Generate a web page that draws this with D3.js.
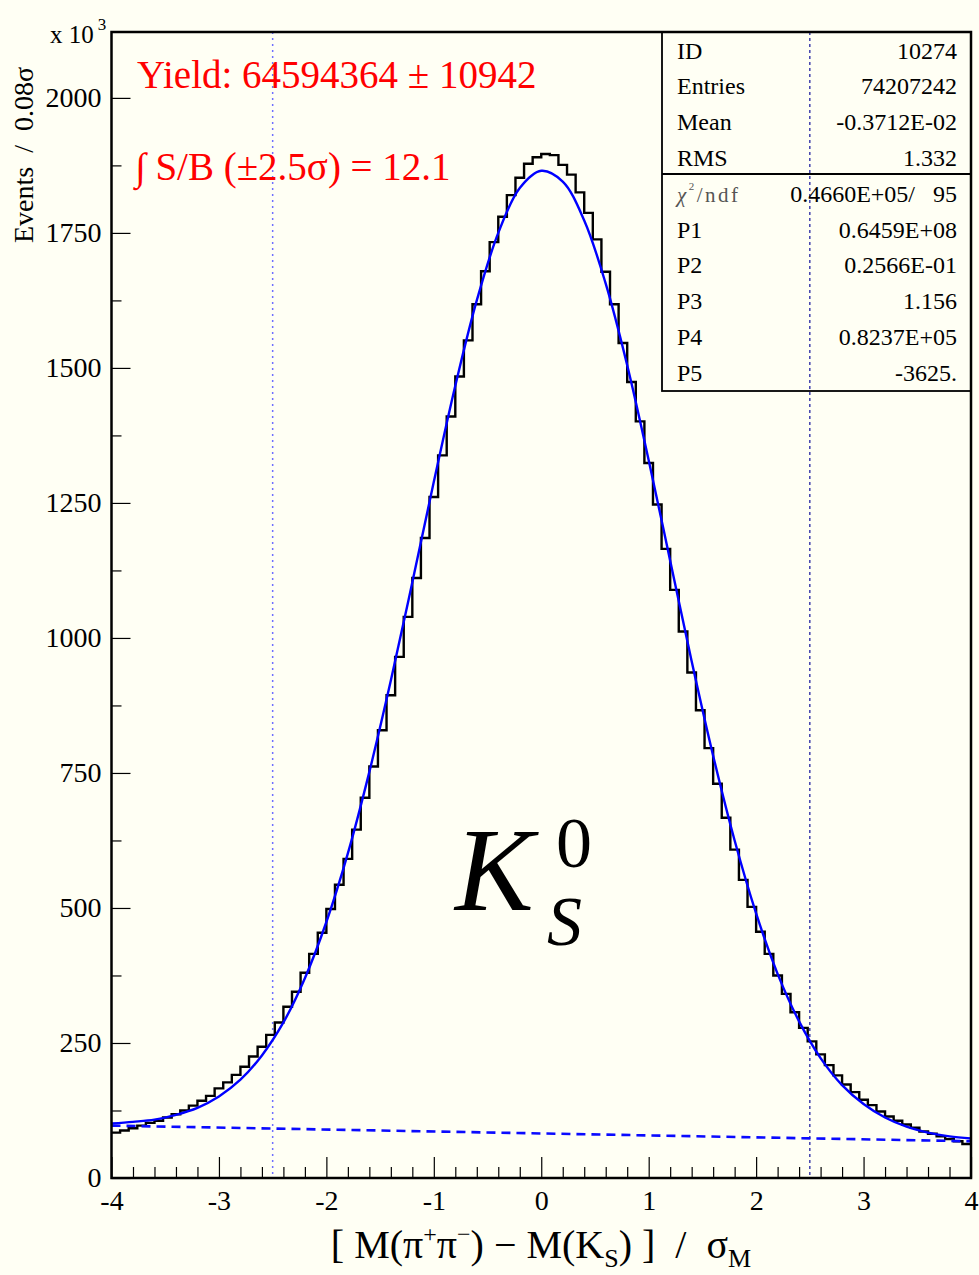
<!DOCTYPE html>
<html>
<head>
<meta charset="utf-8">
<script src="https://cdn.jsdelivr.net/npm/d3@7"></script>
<style>
  html, body { margin: 0; padding: 0; background: #fffff4; }
  svg { display: block; }
  text { font-family: "Liberation Serif", "Times New Roman", serif; }
</style>
</head>
<body>
<svg id="chart"></svg>
<script>
// histogram: 100 bins of 0.08 sigma from -4 to 4 (events, x 10^3)
const binEdgeLo = -4;
const binWidth = 0.08;
const binCounts = [
  84, 88, 92, 97, 102, 106, 112, 118, 125, 134,
  143, 152, 166, 177, 191, 206, 225, 243, 265, 288,
  317, 345, 380, 415, 454, 498, 543, 591, 645, 704,
  762, 829, 894, 965, 1039, 1111, 1185, 1261, 1338, 1410,
  1484, 1551, 1618, 1679, 1733, 1780, 1820, 1852, 1878, 1890,
  1896, 1894, 1876, 1858, 1825, 1787, 1738, 1678, 1618, 1546,
  1474, 1401, 1324, 1247, 1165, 1089, 1012, 936, 866, 796,
  730, 667, 608, 552, 502, 456, 415, 375, 341, 307,
  278, 253, 229, 209, 190, 173, 159, 145, 135, 123,
  114, 106, 99, 93, 86, 82, 77, 72, 68, 63
];

// fitted curve, read every 0.2 sigma
const fitX = [-4, -3.8, -3.6, -3.4, -3.2, -3, -2.8, -2.6, -2.4, -2.2, -2, -1.8, -1.6, -1.4,
  -1.2, -1, -0.8, -0.6, -0.4, -0.2, 0, 0.2, 0.4, 0.6, 0.8, 1, 1.2, 1.4, 1.6, 1.8, 2, 2.2,
  2.4, 2.6, 2.8, 3, 3.2, 3.4, 3.6, 3.8, 4];
const fitY = [101, 104, 108, 117, 130, 151, 182, 227, 288, 370, 474, 601, 752, 921,
  1103, 1289, 1467, 1625, 1750, 1833, 1865, 1845, 1773, 1656, 1505, 1329, 1143, 957, 782, 625, 490, 378,
  290, 222, 172, 137, 112, 95, 84, 77, 73];

// background line (dashed)
const bkgX = [-4, 4];
const bkgY = [97, 68];

// signal window markers
const windowX = [-2.5, 2.5];

const xTicks = [-4, -3, -2, -1, 0, 1, 2, 3, 4];
const yTicks = [0, 250, 500, 750, 1000, 1250, 1500, 1750, 2000];

const statLabels = ['ID', 'Entries', 'Mean', 'RMS', 'χ²/ndf', 'P1', 'P2', 'P3', 'P4', 'P5'];
const statValues = ['10274', '74207242', '-0.3712E-02', '1.332', '0.4660E+05/   95',
  '0.6459E+08', '0.2566E-01', '1.156', '0.8237E+05', '-3625.'];

const largura = 979, altura = 1275;
const esq = 111.5, dir = 971, topo = 32, base = 1178;

let svg = d3.select('#chart').attr('width', largura).attr('height', altura);
svg.append('rect').attr('width', largura).attr('height', altura).attr('fill', '#fffff4');

let fnX = d3.scaleLinear().domain([-4, 4]).range([esq, dir]);
let fnY = d3.scaleLinear().domain([0, 2122]).range([base, topo]);

svg.append('clipPath').attr('id', 'quadro')
  .append('rect').attr('x', esq).attr('y', topo).attr('width', dir - esq).attr('height', base - topo);

let plot = svg.append('g').attr('clip-path', 'url(#quadro)');

// window markers
plot.append('line')
  .attr('x1', fnX(windowX[0])).attr('x2', fnX(windowX[0]))
  .attr('y1', topo).attr('y2', base)
  .attr('stroke', '#6f6fff').attr('stroke-width', 1.5).attr('stroke-dasharray', '2,4');
plot.append('line')
  .attr('x1', fnX(windowX[1])).attr('x2', fnX(windowX[1]))
  .attr('y1', topo).attr('y2', base)
  .attr('stroke', '#10109a').attr('stroke-width', 1.2).attr('stroke-dasharray', '3,3');

// histogram
let pontos = binCounts.map((v, i) => [binEdgeLo + i * binWidth, v]);
pontos.push([binEdgeLo + binCounts.length * binWidth, binCounts[binCounts.length - 1]]);
let linhaHist = d3.line().x(d => fnX(d[0])).y(d => fnY(d[1])).curve(d3.curveStepAfter);
plot.append('path').datum(pontos)
  .attr('d', linhaHist)
  .attr('fill', 'none').attr('stroke', '#000').attr('stroke-width', 2.4);

// background
let linhaSimples = d3.line().x(d => fnX(d[0])).y(d => fnY(d[1]));
plot.append('path').datum(bkgX.map((x, i) => [x, bkgY[i]]))
  .attr('d', linhaSimples)
  .attr('fill', 'none').attr('stroke', '#0a0aff').attr('stroke-width', 2.6)
  .attr('stroke-dasharray', '9,6');

// fit
let linhaFit = d3.line().x(d => fnX(d[0])).y(d => fnY(d[1])).curve(d3.curveCatmullRom);
plot.append('path').datum(fitX.map((x, i) => [x, fitY[i]]))
  .attr('d', linhaFit)
  .attr('fill', 'none').attr('stroke', '#0000ff').attr('stroke-width', 2.4);

// axes
let eixoX = d3.axisBottom(fnX).tickValues(xTicks).tickSize(-21).tickPadding(12).tickFormat(d => String(d));
let gx = svg.append('g').attr('transform', 'translate(0,' + base + ')').call(eixoX);
let eixoXmenor = d3.axisBottom(fnX).tickValues(d3.range(-40, 41, 2).map(d => d / 10).filter(d => !xTicks.includes(d)))
  .tickSize(-11).tickFormat('');
let gxm = svg.append('g').attr('transform', 'translate(0,' + base + ')').call(eixoXmenor);

let eixoY = d3.axisLeft(fnY).tickValues(yTicks).tickSize(-19).tickPadding(10).tickFormat(d => String(d));
let gy = svg.append('g').attr('transform', 'translate(' + esq + ',0)').call(eixoY);
let eixoYmenor = d3.axisLeft(fnY).tickValues(d3.range(125, 2122, 250)).tickSize(-10).tickFormat('');
let gym = svg.append('g').attr('transform', 'translate(' + esq + ',0)').call(eixoYmenor);

[gx, gxm, gy, gym].forEach(g => {
  g.select('.domain').remove();
  g.selectAll('line').attr('stroke', '#000').attr('stroke-width', 1.2);
  g.selectAll('text').attr('font-family', '"Liberation Serif", serif').attr('font-size', 28).attr('fill', '#000');
});
gx.selectAll('text').attr('dy', '0.71em');

// frame
svg.append('rect').attr('x', esq).attr('y', topo).attr('width', dir - esq).attr('height', base - topo)
  .attr('fill', 'none').attr('stroke', '#000').attr('stroke-width', 2.5);

// stats box
let caixaX = 662, caixaDir = dir, caixaSep = 174, caixaBase = 391;
let caixa = svg.append('g');
caixa.append('rect').attr('x', caixaX).attr('y', topo).attr('width', caixaDir - caixaX).attr('height', caixaBase - topo)
  .attr('fill', 'none').attr('stroke', '#000').attr('stroke-width', 1.8);
caixa.append('line').attr('x1', caixaX).attr('x2', caixaDir).attr('y1', caixaSep).attr('y2', caixaSep)
  .attr('stroke', '#000').attr('stroke-width', 1.8);
statLabels.forEach((rotulo, i) => {
  let yy = 58.5 + i * 35.8;
  let t = caixa.append('text').attr('x', 677).attr('y', yy).attr('font-size', 24).attr('fill', '#000');
  if (i === 4) {
    t.attr('font-family', '"DejaVu Sans", sans-serif').attr('font-size', 21).attr('fill', '#555')
      .attr('font-weight', 300).attr('letter-spacing', 2.5);
    t.append('tspan').attr('font-style', 'italic').text('χ');
    t.append('tspan').attr('font-size', 11).attr('dy', -12).text('2');
    t.append('tspan').attr('dy', 12).text('/ndf');
  } else {
    t.text(rotulo);
  }
  caixa.append('text').attr('x', 957).attr('y', yy).attr('text-anchor', 'end')
    .attr('font-size', 24).attr('fill', '#000').style('white-space', 'pre').text(statValues[i]);
});

// red annotations
svg.append('text').attr('x', 137).attr('y', 88).attr('font-size', 39).attr('fill', '#ff0000')
  .text('Yield: 64594364 ± 10942');
svg.append('text').attr('x', 135).attr('y', 180).attr('font-size', 39).attr('fill', '#ff0000')
  .text('∫ S/B (±2.5σ) = 12.1');

// K_S^0 label (one text, super- and subscript stacked)
let rotK = svg.append('text').attr('x', 455).attr('y', 910).attr('fill', '#000');
rotK.append('tspan').attr('font-size', 118).attr('font-style', 'italic').text('K');
rotK.append('tspan').attr('x', 556).attr('y', 867).attr('font-size', 72).text('0');
rotK.append('tspan').attr('x', 547).attr('y', 945).attr('font-size', 70).attr('font-style', 'italic').text('S');

// y title and multiplier
svg.append('text').attr('transform', 'translate(33,243) rotate(-90)')
  .attr('font-size', 28).attr('fill', '#000').style('white-space', 'pre')
  .text('Events  /  0.08σ');
let mult = svg.append('text').attr('x', 50).attr('y', 43).attr('font-size', 25).attr('fill', '#000');
mult.append('tspan').text('x 10');
mult.append('tspan').attr('font-size', 17).attr('dx', 4).attr('dy', -13).text('3');

// x title
let tx = svg.append('text').attr('x', 541).attr('y', 1258).attr('text-anchor', 'middle')
  .attr('font-size', 40).attr('fill', '#000').style('white-space', 'pre');
tx.append('tspan').text('[ M(π');
tx.append('tspan').attr('font-size', 24).attr('dy', -16).text('+');
tx.append('tspan').attr('dy', 16).text('π');
tx.append('tspan').attr('font-size', 24).attr('dy', -16).text('−');
tx.append('tspan').attr('dy', 16).text(') − M(K');
tx.append('tspan').attr('font-size', 26).attr('dy', 9).text('S');
tx.append('tspan').attr('dy', -9).text(') ]  /  σ');
tx.append('tspan').attr('font-size', 26).attr('dy', 9).text('M');
</script>
</body>
</html>
